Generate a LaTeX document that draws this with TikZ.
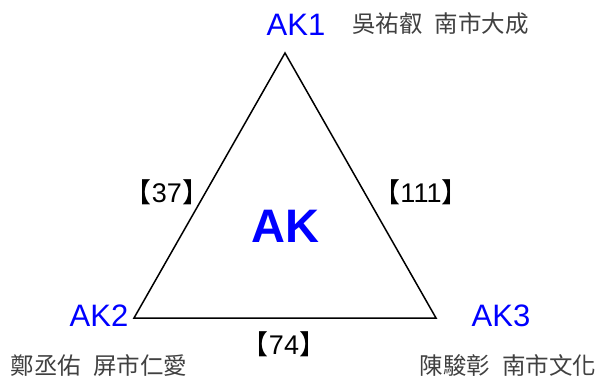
\documentclass[tikz,border=0pt]{standalone}
\usepackage{fontspec}
\setmainfont{Liberation Sans}
\newfontfamily\cjk{Noto Sans CJK TC}
\definecolor{akblue}{RGB}{0,0,255}
\definecolor{namegray}{RGB}{64,64,64}
\newcommand{\namegap}{\hspace{12pt}}
\begin{document}
\begin{tikzpicture}[x=1pt,y=-1pt,
  vlabel/.style={text=akblue,font=\fontsize{31}{31}\selectfont,inner sep=0pt},
  namelabel/.style={text=namegray,font=\cjk\fontsize{23.5}{23.5}\selectfont,inner sep=0pt},
  edgelabel/.style={font=\fontsize{27}{27}\selectfont,inner sep=0pt}]
\useasboundingbox (0,0) rectangle (601,383);
\coordinate (T) at (285,53);
\coordinate (L) at (134,318);
\coordinate (R) at (436,318);
\draw[line width=1.5pt] (T) -- (L) -- (R) -- cycle;

\node[vlabel] (AK1) at (296,25) {AK1};
\node[vlabel] (AK2) at (99,316) {AK2};
\node[vlabel] (AK3) at (501,316) {AK3};

\node[namelabel] (n1) at (440.5,24) {吳祐叡\namegap 南市大成};
\node[namelabel] (n2) at (99,366) {鄭丞佑\namegap 屏市仁愛};
\node[namelabel] (n3) at (508,365) {陳駿彰\namegap 南市文化};

\node[edgelabel] (e12) at (167,192) {{\cjk 【}37{\cjk 】}};
\node[edgelabel] (e13) at (421,192) {{\cjk 【}111{\cjk 】}};
\node[edgelabel] (e23) at (284,344) {{\cjk 【}74{\cjk 】}};

\node[text=akblue,font=\bfseries\fontsize{47}{47}\selectfont,inner sep=0pt] (AK) at (285.5,226.5) {AK};
\end{tikzpicture}
\end{document}
